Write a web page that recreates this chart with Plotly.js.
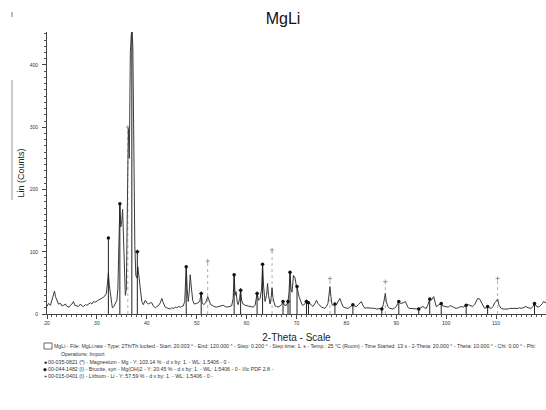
<!DOCTYPE html>
<html>
<head>
<meta charset="utf-8">
<script src="https://cdn.plot.ly/plotly-3.0.1.min.js"></script>
<style>html,body{margin:0;padding:0;background:#fff;}#chart{width:546px;height:410px;}</style>
</head>
<body>
<div id="chart"></div>
<script>
// ---- Measured diffraction pattern (2-Theta in degrees, Lin counts) ----
const twoTheta = [
20.0,20.3,20.7,21.0,21.3,21.5,21.7,22.0,22.3,22.7,23.0,23.3,23.7,24.0,24.4,24.7,25.0,25.3,25.6,26.0,
26.3,26.7,27.0,27.3,27.7,28.0,28.4,28.7,29.0,29.3,29.7,30.0,30.4,30.7,31.0,31.3,31.6,31.9,32.1,32.3,
32.5,32.7,32.9,33.1,33.4,33.7,34.0,34.2,34.4,34.6,34.8,35.0,35.15,35.35,35.5,35.7,35.9,36.1,36.3,36.5,
36.7,36.9,37.05,37.2,37.4,37.6,37.8,38.0,38.2,38.4,38.6,38.8,39.0,39.3,39.7,40.0,40.3,40.7,41.0,41.3,
41.7,42.0,42.4,42.7,43.0,43.3,43.7,44.0,44.4,44.7,45.0,45.4,45.7,46.0,46.4,46.7,47.0,47.3,47.6,47.9,
48.1,48.3,48.5,48.7,48.9,49.2,49.5,49.8,50.0,50.3,50.6,50.9,51.1,51.4,51.8,52.2,52.5,52.8,53.1,53.5,
54.0,54.4,54.8,55.3,55.7,56.1,56.5,57.0,57.3,57.5,57.7,57.9,58.1,58.3,58.6,58.8,59.0,59.3,59.7,60.1,
60.5,60.9,61.3,61.7,62.1,62.4,62.7,63.0,63.2,63.4,63.7,64.0,64.2,64.4,64.7,64.9,65.1,65.3,65.7,66.0,
66.3,66.7,67.0,67.3,67.6,68.0,68.3,68.5,68.7,68.9,69.1,69.4,69.7,70.0,70.2,70.5,70.8,71.1,71.4,71.7,
72.0,72.4,72.7,73.0,73.3,73.7,74.0,74.3,74.7,75.0,75.4,75.7,76.0,76.3,76.5,76.7,76.9,77.1,77.4,77.7,
78.0,78.4,78.7,79.0,79.3,79.7,80.0,80.3,80.7,81.0,81.3,81.6,82.0,82.4,82.7,83.0,83.3,83.7,84.0,84.4,
84.7,85.0,85.4,85.7,86.0,86.4,86.7,87.1,87.4,87.6,87.8,88.0,88.3,88.7,89.0,89.3,89.7,90.0,90.3,90.5,
90.8,91.0,91.4,91.8,92.1,92.4,92.7,93.0,93.4,93.7,94.0,94.5,94.9,95.3,95.7,96.0,96.3,96.7,97.0,97.3,
97.5,97.8,98.0,98.4,98.7,99.0,99.3,99.7,100.0,100.4,100.7,101.0,101.4,101.7,102.0,102.4,102.7,103.0,103.4,103.7,
104.0,104.4,104.7,105.0,105.3,105.7,106.0,106.3,106.7,107.0,107.4,107.7,108.0,108.3,108.7,109.0,109.4,109.7,110.0,110.3,
110.6,111.0,111.4,111.7,112.0,112.4,112.7,113.0,113.4,113.7,114.0,114.4,114.7,115.0,115.4,115.7,116.0,116.4,116.7,117.0,
117.4,117.7,118.0,118.4,118.7,119.0,119.3,119.5,119.8,120.0
];
const counts = [
12,17,14,22,30,37,28,20,16,17,13,14,16,12,11,14,16,20,14,13,
12,16,13,12,15,14,17,18,16,20,19,21,23,24,25,27,29,33,48,66,
45,30,15,10,12,17,22,40,120,176,140,150,168,110,60,30,40,150,298,250,
420,450,453,430,260,110,62,58,76,60,42,28,20,15,22,18,16,18,18,13,
10,12,14,18,25,18,11,10,9,8,10,9,11,10,12,11,12,13,20,76,
40,20,35,63,45,22,16,16,17,18,20,33,18,15,18,28,20,15,14,12,
11,12,13,14,12,11,12,13,25,63,30,36,20,15,25,38,22,16,14,13,
12,11,11,14,33,22,25,40,80,45,20,30,49,30,16,25,42,25,13,12,
11,13,15,20,14,14,20,35,67,40,35,62,58,44,40,28,20,15,14,18,
20,18,17,14,12,17,22,17,13,11,10,9,12,17,30,44,28,15,14,16,
15,20,25,18,12,10,9,9,11,13,15,13,12,15,18,20,14,9,10,10,
10,9,9,9,8,8,8,9,15,24,33,20,12,9,8,8,10,12,17,20,
17,17,18,20,14,10,9,9,9,9,8,8,10,12,10,9,14,24,22,26,
28,18,12,14,15,17,13,12,12,11,13,13,11,10,9,10,11,12,11,13,
14,15,14,13,12,15,20,25,24,20,13,9,10,12,10,9,12,18,20,24,
14,9,8,8,7,8,9,9,8,9,8,9,10,9,10,11,12,10,9,9,
12,17,13,11,12,14,17,20,18,18
];

// ---- Reference patterns (stick positions and scaled heights) ----
const mgPos    = [32.3, 34.6, 37.0, 47.9, 57.5, 63.2, 67.3, 68.7, 70.1, 72.4, 77.7, 81.3, 87.1, 90.5, 94.5, 96.7, 99.0, 104.0, 108.3, 117.7];
const mgHeight = [122, 177, 455, 76, 63, 80, 20, 67, 44, 18, 16, 15, 8, 20, 8, 24, 17, 14, 12, 17];
const brPos    = [38.1, 50.9, 58.8, 62.1, 68.3, 72.0];
const brHeight = [100, 33, 38, 33, 20, 20];
const liPos    = [36.2, 52.2, 65.1, 76.7, 87.8, 110.3];
const liHeight = [300, 85, 103, 57, 52, 57];

const xTicks = [20, 30, 40, 50, 60, 70, 80, 90, 100, 110, 120];
const yTicks = [0, 100, 200, 300, 400];

const infoLines = [
  "MgLi - File: MgLi.raw - Type: 2Th/Th locked - Start: 20.003 ° - End: 120.000 ° - Step: 0.200 ° - Step time: 1. s - Temp.: 25 °C (Room) - Time Started: 13 s - 2-Theta: 20.000 ° - Theta: 10.000 ° - Chi: 0.00 ° - Phi:",
  "Operations: Import",
  "00-035-0821 (*) - Magnesium - Mg - Y: 103.14 % - d x by: 1. - WL: 1.5406 - 0 -",
  "00-044-1482 (I) - Brucite, syn - Mg(OH)2 - Y: 20.45 % - d x by: 1. - WL: 1.5406 - 0 - I/Ic PDF 2.8 -",
  "00-015-0401 (I) - Lithium - Li - Y: 57.59 % - d x by: 1. - WL: 1.5406 - 0 -"
];
const infoBullets = ["", "", "●", "◆", "+"];

// ---- build traces ----
function sticks(pos, h) {
  const x = [], y = [];
  pos.forEach((p, i) => { x.push(p, p, null); y.push(0, h[i], null); });
  return {x, y};
}
const FONT = "Liberation Sans, Arial, sans-serif";
const mgS = sticks(mgPos, mgHeight), brS = sticks(brPos, brHeight), liS = sticks(liPos, liHeight);

const traces = [
  {x: liS.x, y: liS.y, mode: 'lines', line: {color: '#b0b0b0', width: 1, dash: 'dot'}, hoverinfo: 'skip', showlegend: false},
  {x: liPos, y: liHeight, mode: 'markers', marker: {symbol: 'cross-thin', size: 3, line: {color: '#999', width: 1}}, showlegend: false, cliponaxis: false},
  {x: twoTheta, y: counts, mode: 'lines', line: {color: '#3a3a3a', width: 1}, showlegend: false},
  {x: mgS.x, y: mgS.y, mode: 'lines', line: {color: '#222', width: 1}, hoverinfo: 'skip', showlegend: false},
  {x: mgPos, y: mgHeight, mode: 'markers', marker: {symbol: 'circle', size: 3.5, color: '#111'}, showlegend: false, cliponaxis: false},
  {x: brS.x, y: brS.y, mode: 'lines', line: {color: '#222', width: 1}, hoverinfo: 'skip', showlegend: false},
  {x: brPos, y: brHeight, mode: 'markers', marker: {symbol: 'diamond', size: 3.5, color: '#111'}, showlegend: false, cliponaxis: false}
];

// pixel helpers for page furniture (plot area: x 47..546, y 32..314)
const px = v => (v - 47) / 499;
const py = v => (314 - v) / 282;

const lineY = [346, 354, 362, 369, 376];
const annotations = [];
infoLines.forEach((t, i) => {
  const startX = i === 0 ? 53 : (i === 1 ? 60 : 47);
  annotations.push({xref: 'paper', yref: 'paper', x: px(startX), y: py(lineY[i]), xanchor: 'left', yanchor: 'middle',
    text: t, showarrow: false, borderpad: 0, font: {family: FONT, size: 5.25, color: '#333'}});
  if (infoBullets[i]) {
    annotations.push({xref: 'paper', yref: 'paper', x: px(45), y: py(lineY[i]), xanchor: 'center', yanchor: 'middle',
      text: infoBullets[i], showarrow: false, borderpad: 0, font: {family: FONT, size: 5.25, color: '#111'}});
  }
});

const shapes = [
  {type: 'rect', xref: 'paper', yref: 'paper', x0: px(44), x1: px(52), y0: py(349), y1: py(343), line: {color: '#444', width: 0.8}, fillcolor: 'rgba(0,0,0,0)'},
  {type: 'line', xref: 'paper', yref: 'paper', x0: px(12), x1: px(12), y0: py(80), y1: py(200), line: {color: '#999', width: 1}},
  {type: 'line', xref: 'paper', yref: 'paper', x0: px(12), x1: px(12), y0: py(12), y1: py(17), line: {color: '#777', width: 1}}
];

const layout = {
  width: 546, height: 410,
  margin: {l: 47, r: 0, t: 32, b: 96, pad: 0},
  paper_bgcolor: '#fff', plot_bgcolor: '#fff',
  font: {family: FONT, color: '#222'},
  title: {text: 'MgLi', x: 283 / 546, xref: 'container', xanchor: 'center', y: 1 - 18 / 410, yanchor: 'middle', font: {family: FONT, size: 16, color: '#111'}},
  xaxis: {
    range: [20, 120], tickvals: xTicks, ticktext: xTicks.map(String),
    showgrid: false, zeroline: false, showline: true, linecolor: '#444', linewidth: 1,
    ticks: 'outside', ticklen: 4, tickcolor: '#444', tickwidth: 1,
    minor: {dtick: 1, ticks: 'outside', ticklen: 2, tickcolor: '#555', showgrid: false},
    tickfont: {family: FONT, size: 5, color: '#333'},
    title: {text: '2-Theta - Scale', font: {family: FONT, size: 10, color: '#222'}, standoff: 8},
    automargin: false
  },
  yaxis: {
    range: [0, 453], tickvals: yTicks, ticktext: yTicks.map(String),
    showgrid: false, zeroline: false, showline: true, linecolor: '#444', linewidth: 1,
    ticks: 'outside', ticklen: 4, tickcolor: '#444', tickwidth: 1, ticklabelstandoff: 3,
    minor: {dtick: 10, ticks: 'outside', ticklen: 2, tickcolor: '#555', showgrid: false},
    tickfont: {family: FONT, size: 5, color: '#333'},
    title: {text: 'Lin (Counts)', font: {family: FONT, size: 9, color: '#222'}, standoff: 3},
    automargin: false
  },
  annotations: annotations,
  shapes: shapes,
  showlegend: false
};

Plotly.newPlot('chart', traces, layout, {displayModeBar: false, staticPlot: true});
</script>
</body>
</html>
